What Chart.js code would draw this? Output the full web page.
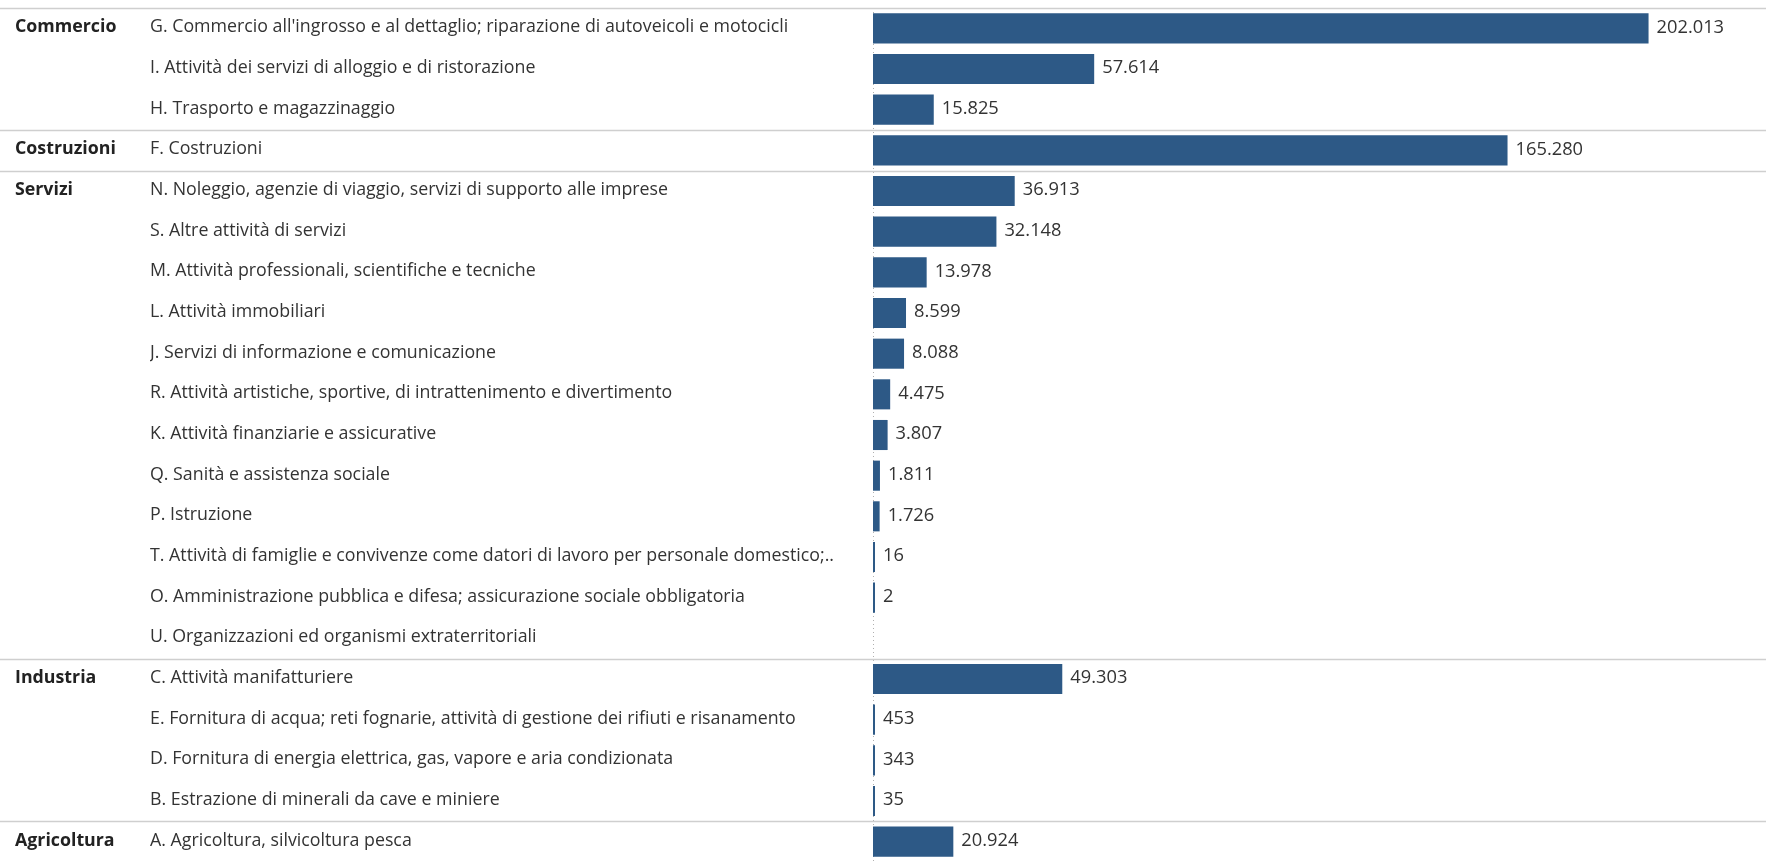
<!DOCTYPE html>
<html>
<head>
<meta charset="utf-8">
<script src="https://cdn.jsdelivr.net/npm/chart.js@4/dist/chart.umd.min.js"></script>
<style>
  html, body { margin: 0; padding: 0; background: #ffffff; }
  canvas { display: block; }
</style>
</head>
<body>
<canvas id="c" width="1766" height="862"></canvas>
<script>
// ---------------- DATA ----------------
const groups = [
  'Commercio', '', '',
  'Costruzioni',
  'Servizi', '', '', '', '', '', '', '', '', '', '', '',
  'Industria', '', '', '',
  'Agricoltura'
];

const categories = [
  "G. Commercio all'ingrosso e al dettaglio; riparazione di autoveicoli e motocicli",
  "I. Attività dei servizi di alloggio e di ristorazione",
  "H. Trasporto e magazzinaggio",
  "F. Costruzioni",
  "N. Noleggio, agenzie di viaggio, servizi di supporto alle imprese",
  "S. Altre attività di servizi",
  "M. Attività professionali, scientifiche e tecniche",
  "L. Attività immobiliari",
  "J. Servizi di informazione e comunicazione",
  "R. Attività artistiche, sportive, di intrattenimento e divertimento",
  "K. Attività finanziarie e assicurative",
  "Q. Sanità e assistenza sociale",
  "P. Istruzione",
  "T. Attività di famiglie e convivenze come datori di lavoro per personale domestico;..",
  "O. Amministrazione pubblica e difesa; assicurazione sociale obbligatoria",
  "U. Organizzazioni ed organismi extraterritoriali",
  "C. Attività manifatturiere",
  "E. Fornitura di acqua; reti fognarie, attività di gestione dei rifiuti e risanamento",
  "D. Fornitura di energia elettrica, gas, vapore e aria condizionata",
  "B. Estrazione di minerali da cave e miniere",
  "A. Agricoltura, silvicoltura pesca"
];

const values = [
  202013, 57614, 15825,
  165280,
  36913, 32148, 13978, 8599, 8088, 4475, 3807, 1811, 1726, 16, 2, null,
  49303, 453, 343, 35,
  20924
];

// ---------------- STYLE ----------------
const FONT = 'Open Sans';
const LABEL_SIZE = 17.8;
const VALUE_SIZE = 18.3;
const BAR_COLOR = '#2d5986';
const TEXT_COLOR = '#333333';
const LINE_COLOR = '#cfcfcf';

function fmt(v) {
  return String(v).replace(/\B(?=(\d{3})+(?!\d))/g, '.');
}

function noPad(scale) {
  scale.paddingTop = 0;
  scale.paddingBottom = 0;
}

// separator lines across the full width, plus dotted zero line
const separatorPlugin = {
  id: 'separators',
  beforeDatasetsDraw(chart) {
    const y = chart.scales.y;
    const x = chart.scales.x;
    const ctx = chart.ctx;
    const step = y.getPixelForValue(1) - y.getPixelForValue(0);
    const area = chart.chartArea;
    ctx.save();
    const px = Math.round(x.getPixelForValue(0)) + 0.5;
    ctx.strokeStyle = '#b0b0b0';
    ctx.lineWidth = 1;
    ctx.setLineDash([1, 3]);
    ctx.beginPath();
    ctx.moveTo(px, area.top);
    ctx.lineTo(px, area.bottom);
    ctx.stroke();
    ctx.setLineDash([]);
    ctx.strokeStyle = LINE_COLOR;
    ctx.lineWidth = 1.5;
    groups.forEach((g, i) => {
      if (g === '') return;
      const py = Math.round(y.getPixelForValue(i) - step / 2) + 0.5;
      ctx.beginPath();
      ctx.moveTo(0, py);
      ctx.lineTo(chart.width, py);
      ctx.stroke();
    });
    ctx.restore();
  }
};

// value labels at the end of each bar
const valueLabelPlugin = {
  id: 'valueLabels',
  afterDatasetsDraw(chart) {
    const ctx = chart.ctx;
    const meta = chart.getDatasetMeta(0);
    ctx.save();
    ctx.font = VALUE_SIZE + 'px "' + FONT + '"';
    ctx.fillStyle = TEXT_COLOR;
    ctx.textAlign = 'left';
    ctx.textBaseline = 'middle';
    meta.data.forEach((bar, i) => {
      const v = values[i];
      if (v === null || v === undefined) return;
      ctx.fillText(fmt(v), bar.x + 8, bar.y - 1);
    });
    ctx.restore();
  }
};

new Chart(document.getElementById('c'), {
  type: 'bar',
  data: {
    labels: categories,
    datasets: [{
      data: values,
      backgroundColor: BAR_COLOR,
      borderWidth: 0,
      barPercentage: 0.74,
      categoryPercentage: 1,
      minBarLength: 2,
      yAxisID: 'y',
      xAxisID: 'x'
    }]
  },
  options: {
    indexAxis: 'y',
    responsive: false,
    animation: false,
    devicePixelRatio: 1,
    layout: { padding: { left: 15, top: 8, right: 10, bottom: -2 } },
    plugins: {
      legend: { display: false },
      tooltip: { enabled: false },
      title: { display: false }
    },
    scales: {
      x: {
        type: 'linear',
        display: false,
        min: 0,
        max: 230000
      },
      y: {
        type: 'category',
        position: 'left',
        offset: true,
        weight: 0,
        grid: { display: false, drawTicks: false },
        border: { display: false },
        ticks: {
          autoSkip: false,
          crossAlign: 'far',
          padding: 0,
          labelOffset: -1,
          color: TEXT_COLOR,
          font: { family: FONT, size: LABEL_SIZE }
        },
        afterFit(scale) { scale.width = 723; noPad(scale); }
      },
      y2: {
        type: 'category',
        position: 'left',
        labels: groups,
        offset: true,
        weight: 1,
        grid: { display: false, drawTicks: false },
        border: { display: false },
        ticks: {
          autoSkip: false,
          crossAlign: 'far',
          padding: 0,
          labelOffset: -1,
          color: '#222222',
          font: { family: FONT, size: LABEL_SIZE, weight: 'bold' }
        },
        afterFit(scale) { scale.width = 135; noPad(scale); }
      }
    }
  },
  plugins: [separatorPlugin, valueLabelPlugin]
});
</script>
</body>
</html>
